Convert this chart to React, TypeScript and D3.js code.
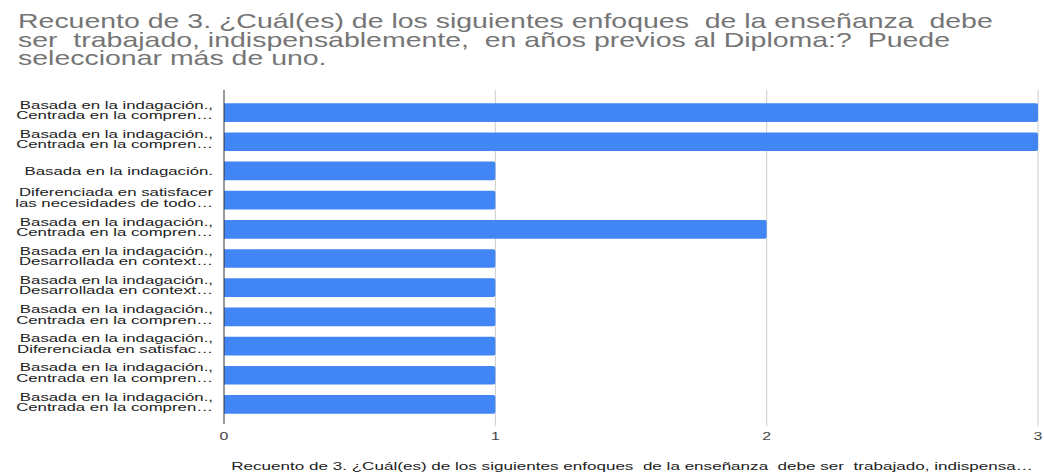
import React from "react";
import * as d3 from "d3";

const titleLines = [
  "Recuento de 3. ¿Cuál(es) de los siguientes enfoques  de la enseñanza  debe",
  "ser  trabajado, indispensablemente,  en años previos al Diploma:?  Puede",
  "seleccionar más de uno.",
];
const categories: string[][] = [
  ["Basada en la indagación.,", "Centrada en la compren…"],
  ["Basada en la indagación.,", "Centrada en la compren…"],
  ["Basada en la indagación."],
  ["Diferenciada en satisfacer", "las necesidades de todo…"],
  ["Basada en la indagación.,", "Centrada en la compren…"],
  ["Basada en la indagación.,", "Desarrollada en context…"],
  ["Basada en la indagación.,", "Desarrollada en context…"],
  ["Basada en la indagación.,", "Centrada en la compren…"],
  ["Basada en la indagación.,", "Diferenciada en satisfac…"],
  ["Basada en la indagación.,", "Centrada en la compren…"],
  ["Basada en la indagación.,", "Centrada en la compren…"],
];
const values = [3, 3, 1, 1, 2, 1, 1, 1, 1, 1, 1];
const xTicks = [0, 1, 2, 3];
const xTitle =
  "Recuento de 3. ¿Cuál(es) de los siguientes enfoques  de la enseñanza  debe ser  trabajado, indispensa…";

const FONT = "'Liberation Sans', Arial, sans-serif";

export default function App() {
  const x = d3.scaleLinear().domain([0, 3]).range([224, 1038]);
  const y = d3
    .scaleBand<number>()
    .domain(values.map((_, i) => i))
    .range([93, 424])
    .paddingInner(0.36)
    .paddingOuter(0.35);
  const bw = y.bandwidth();
  const st = { whiteSpace: "pre" as const };
  return (
    <svg
      width={1044}
      height={474}
      style={{ position: "absolute", left: 0, top: 0, background: "#fff" }}
      fontFamily={FONT}
    >
      {titleLines.map((t, i) => (
        <text
          key={i}
          transform={`translate(18,${28 + i * 18.5}) scale(1.424,1)`}
          fontSize={20}
          fill="#757575"
          style={st}
        >
          {t}
        </text>
      ))}
      {xTicks.map((t) => (
        <g key={t}>
          {t > 0 && (
            <line x1={x(t)} x2={x(t)} y1={90} y2={426} stroke="#cccccc" strokeWidth={1} />
          )}
          <text
            transform={`translate(${x(t)},${440}) scale(1.38,1)`}
            textAnchor="middle"
            fontSize={11.5}
            fill="#444"
          >
            {t}
          </text>
        </g>
      ))}
      {values.map((v, i) => {
        const y0 = y(i)!;
        const x0 = x(0);
        const w = x(v) - x0;
        const r = 2;
        const p = `M${x0},${y0}H${x0 + w - r}Q${x0 + w},${y0} ${x0 + w},${y0 + r}V${y0 + bw - r}Q${x0 + w},${y0 + bw} ${x0 + w - r},${y0 + bw}H${x0}Z`;
        return <path key={i} d={p} fill="#4285f4" />;
      })}
      <line x1={x(0)} x2={x(0)} y1={90} y2={424} stroke="#333" strokeWidth={1} />
      {categories.map((lines, i) => {
        const cy = y(i)! + bw / 2;
        const lh = 10.5;
        const start = lines.length === 1 ? cy + 4 : cy - 3.8;
        return lines.map((l, j) => (
          <text
            key={`${i}-${j}`}
            transform={`translate(213,${start + j * lh}) scale(1.526,1)`}
            textAnchor="end"
            fontSize={11}
            fill="#222"
            style={st}
          >
            {l}
          </text>
        ));
      })}
      <text
        transform={`translate(632,470) scale(1.485,1)`}
        textAnchor="middle"
        fontSize={11.5}
        fill="#222"
        style={st}
      >
        {xTitle}
      </text>
    </svg>
  );
}
